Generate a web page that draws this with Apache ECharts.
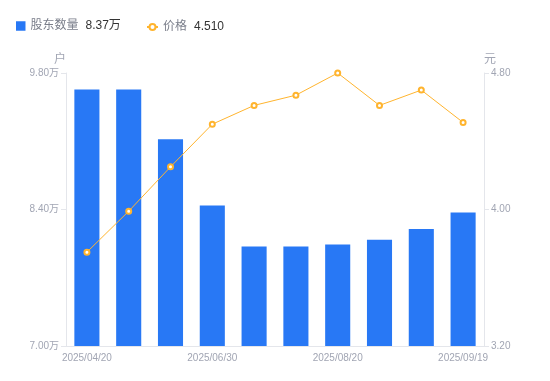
<!DOCTYPE html>
<html>
<head>
<meta charset="utf-8">
<script src="https://cdn.jsdelivr.net/npm/echarts@6/dist/echarts.min.js"></script>
<style>
html,body{margin:0;padding:0;background:#fff;}
#c{width:550px;height:381px;}
</style>
</head>
<body>
<div id="c"></div>
<script>
const categories = ['2025/04/20','2025/05/20','2025/06/10','2025/06/30','2025/07/10','2025/07/31','2025/08/20','2025/08/31','2025/09/10','2025/09/19'];
const holders = [9.63, 9.63, 9.12, 8.44, 8.02, 8.02, 8.04, 8.09, 8.20, 8.37];
const prices = [3.75, 3.99, 4.25, 4.50, 4.61, 4.67, 4.80, 4.61, 4.70, 4.51];
const leftTicks = [7.00, 8.40, 9.80];
const rightTicks = [3.20, 4.00, 4.80];
const holderName = '股东数量';
const priceName = '价格';
const holderLatest = '8.37万';
const priceLatest = '4.510';

const chart = echarts.init(document.getElementById('c'));
const font = '"Liberation Sans", Arial, "Noto Sans CJK SC", sans-serif';
const labelColor = '#a1a5b3';
const lineColor = '#e4e6eb';
const barColor = '#2878f5';
const priceColor = '#ffb42e';
function legendText(n) {
  return '{n|' + n + '}{v|' + (n === holderName ? holderLatest : priceLatest) + '}';
}
const legendRich = {
  n: { fontSize: 12, color: '#7a7e8a', fontFamily: font },
  v: { fontSize: 12, color: '#333333', padding: [0, 0, 0, 7], fontFamily: font }
};
chart.setOption({
  animation: false,
  textStyle: { fontFamily: font },
  legend: [
    {
      left: 11, top: 15,
      itemWidth: 9.5, itemHeight: 9.5,
      data: [{ name: holderName, icon: 'rect' }],
      formatter: legendText,
      textStyle: { fontFamily: font, rich: legendRich }
    },
    {
      left: 141, top: 16,
      itemWidth: 11, itemHeight: 7.5,
      data: [{ name: priceName }],
      formatter: legendText,
      textStyle: { fontFamily: font, rich: legendRich }
    }
  ],
  grid: { left: 66, right: 66, top: 73, bottom: 35 },
  xAxis: {
    type: 'category',
    data: categories,
    axisLine: { lineStyle: { color: lineColor } },
    axisTick: { show: false },
    axisLabel: { color: labelColor, fontSize: 10, interval: 2, margin: 7, fontFamily: font }
  },
  yAxis: [
    {
      type: 'value', name: '户', min: leftTicks[0], max: leftTicks[2], interval: leftTicks[1] - leftTicks[0],
      position: 'left',
      nameTextStyle: { color: labelColor, fontSize: 12, padding: [0, 12, 0, 0], fontFamily: font },
      nameGap: 7,
      axisLine: { show: true, lineStyle: { color: lineColor } },
      axisTick: { show: true, length: 5, lineStyle: { color: lineColor } },
      splitLine: { show: false },
      axisLabel: { color: labelColor, fontSize: 10, margin: 7, fontFamily: font,
        formatter: v => v.toFixed(2) + '万' }
    },
    {
      type: 'value', name: '元', min: rightTicks[0], max: rightTicks[2], interval: rightTicks[1] - rightTicks[0],
      position: 'right',
      nameTextStyle: { color: labelColor, fontSize: 12, padding: [0, 0, 0, 12], fontFamily: font },
      nameGap: 7,
      axisLine: { show: true, lineStyle: { color: lineColor } },
      axisTick: { show: true, length: 5, lineStyle: { color: lineColor } },
      splitLine: { show: false },
      axisLabel: { color: labelColor, fontSize: 10, margin: 7, fontFamily: font,
        formatter: v => v.toFixed(2) }
    }
  ],
  series: [
    {
      name: holderName, type: 'bar', data: holders, yAxisIndex: 0,
      barWidth: '60%',
      itemStyle: { color: barColor }
    },
    {
      name: priceName, type: 'line', data: prices, yAxisIndex: 1,
      symbol: 'emptyCircle', symbolSize: 5,
      lineStyle: { color: priceColor, width: 1 },
      itemStyle: { color: priceColor, borderWidth: 2 }
    }
  ]
});
</script>
</body>
</html>
